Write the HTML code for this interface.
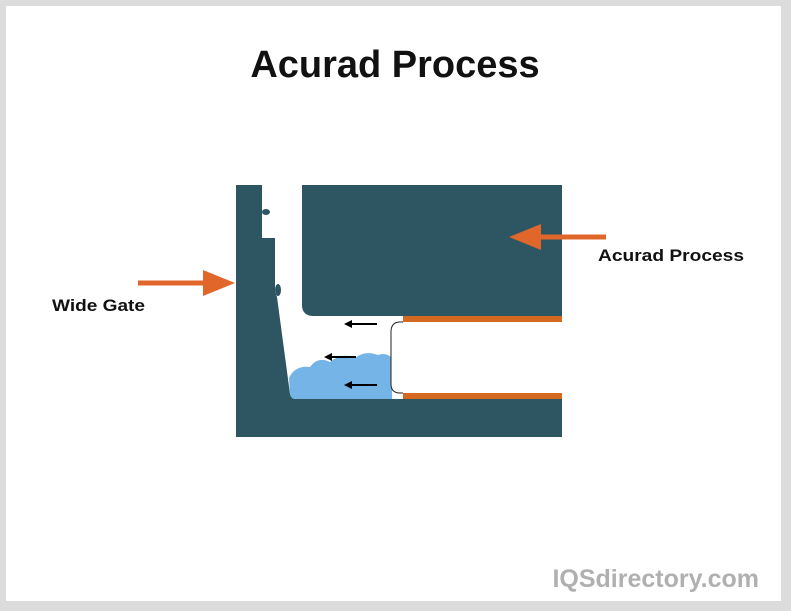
<!DOCTYPE html>
<html><head><style>
html,body{margin:0;padding:0;background:#dcdcdc;}
svg{display:block;}
text{font-family:"Liberation Sans",sans-serif;font-weight:bold;}
</style></head><body>
<svg width="791" height="611" viewBox="0 0 791 611">
<rect x="0" y="0" width="791" height="611" fill="#dcdcdc"/>
<rect x="6" y="6" width="775" height="595" fill="#fff"/>
<text x="395" y="77" font-size="38" text-anchor="middle" fill="#111">Acurad Process</text>
<rect x="236" y="185" width="326" height="252" fill="#2d5562"/>
<path d="M262,185 H302 V305 Q302,316 314,316 H403 V399 H296 Q291,399 290,394 L277,297 L275,292 V238 L262,238 Z" fill="#fff"/>
<ellipse cx="266" cy="212" rx="4" ry="3" fill="#2d5562"/>
<ellipse cx="278" cy="290" rx="3" ry="6" fill="#2d5562"/>
<rect x="403" y="316" width="159" height="83" fill="#fff"/>
<path d="M289,378 Q295,365 310,367 Q318,356 330,362 Q342,352 355,358 Q365,350 378,355 Q386,352 392,358 V399 H296 Q291,399 290,394 Z" fill="#74b4e6"/>
<path d="M403,322 H400 Q391,322 391,332 V384 Q391,393 400,393 H403" fill="#fff" stroke="#222" stroke-width="1"/>
<rect x="403" y="316" width="159" height="6" fill="#d4691f"/>
<rect x="403" y="393" width="159" height="6" fill="#d4691f"/>
<g stroke="#000" stroke-width="2" fill="#000">
<line x1="377" y1="324" x2="350" y2="324"/><path d="M344,324 L352,320 L352,328Z" stroke="none"/>
<line x1="356" y1="357" x2="330" y2="357"/><path d="M324,357 L332,353 L332,361Z" stroke="none"/>
<line x1="377" y1="385" x2="350" y2="385"/><path d="M344,385 L352,381 L352,389Z" stroke="none"/>
</g>
<line x1="606" y1="237" x2="538" y2="237" stroke="#e0662a" stroke-width="5"/>
<path d="M509,237 L541,224 L541,250Z" fill="#e0662a"/>
<line x1="138" y1="283" x2="206" y2="283" stroke="#e0662a" stroke-width="5"/>
<path d="M235,283 L203,270 L203,296Z" fill="#e0662a"/>
<text x="598" y="261" font-size="17" fill="#111" textLength="146" lengthAdjust="spacingAndGlyphs">Acurad Process</text>
<text x="52" y="311" font-size="17" fill="#111" textLength="93" lengthAdjust="spacingAndGlyphs">Wide Gate</text>
<text x="759" y="587" font-size="25" text-anchor="end" fill="#b0b0b0">IQSdirectory.com</text>
</svg>
</body></html>
